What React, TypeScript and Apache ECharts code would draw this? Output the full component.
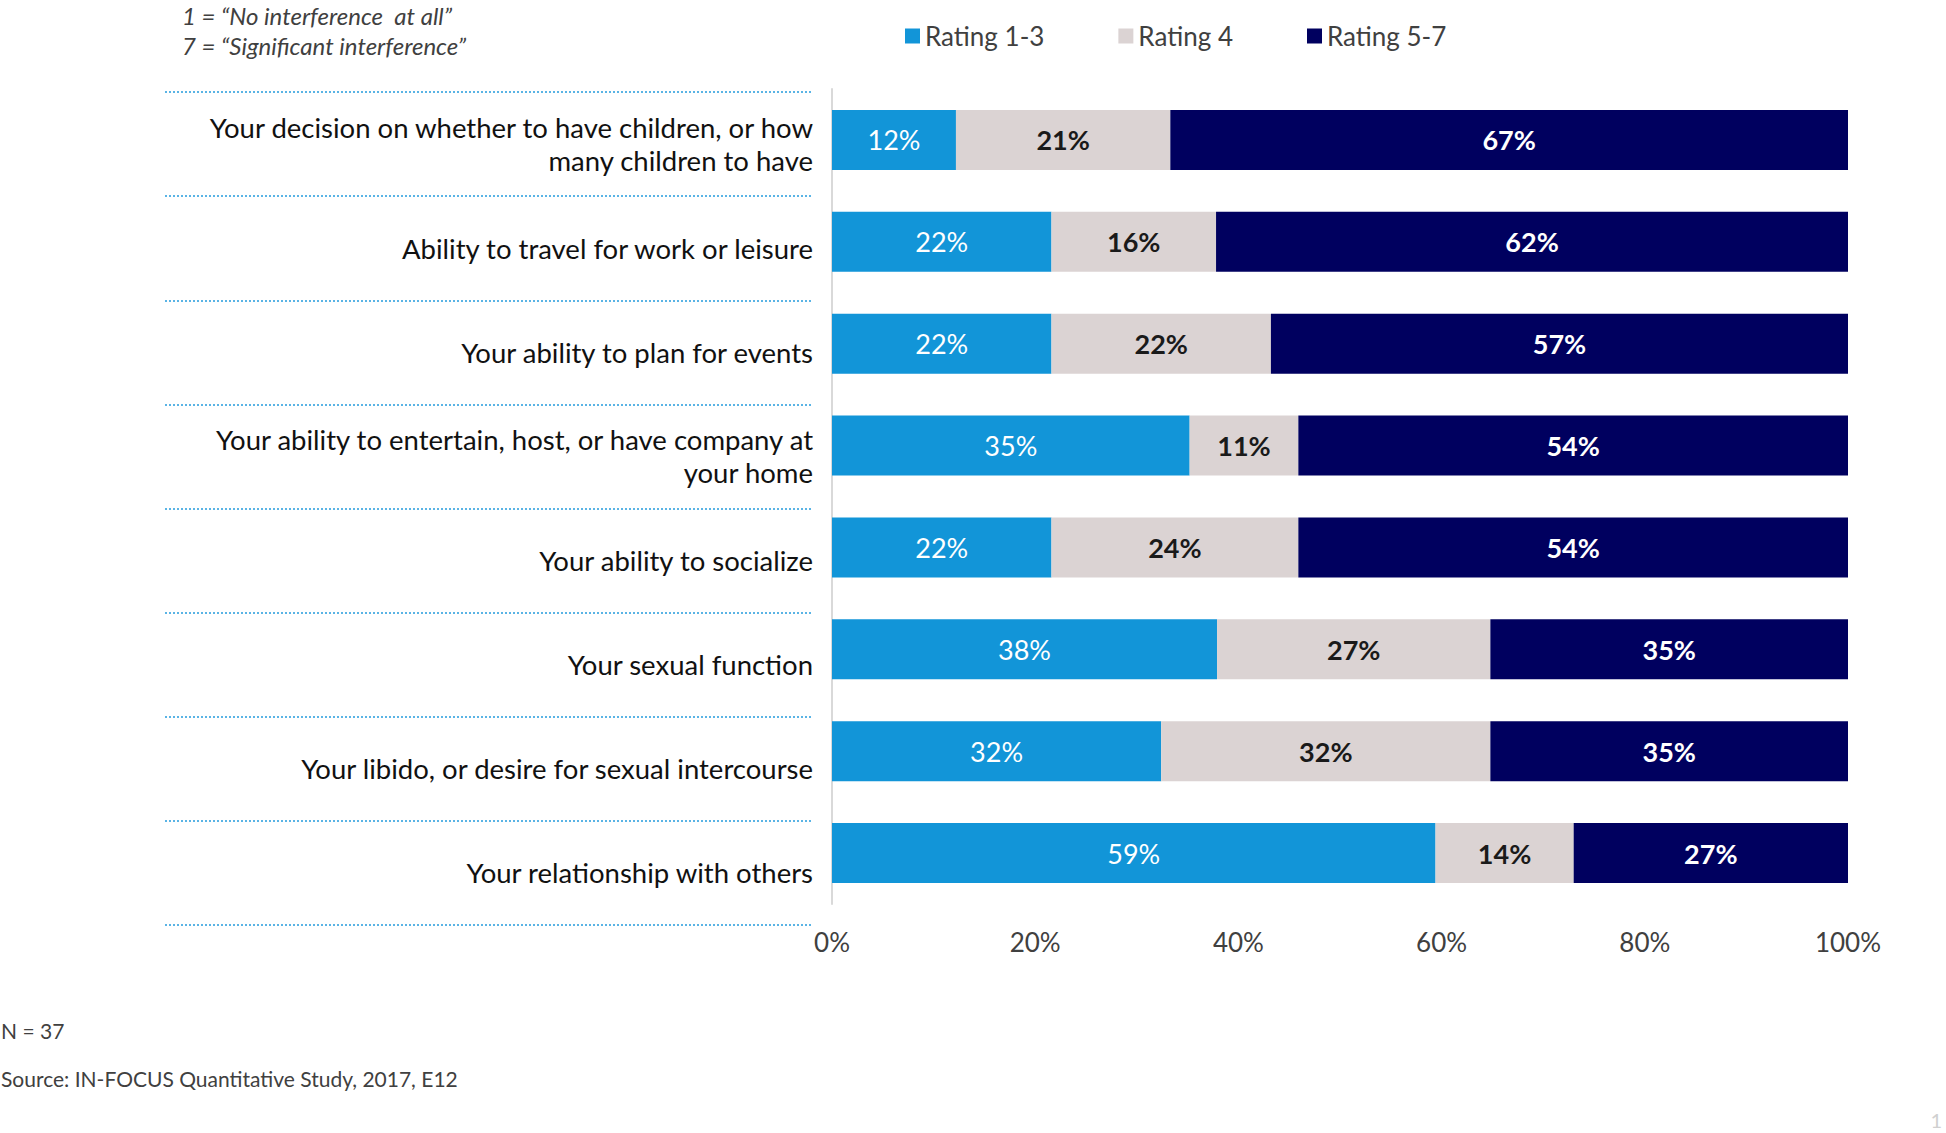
import React, { useEffect, useRef } from "react";
import * as echarts from "echarts";

const categories = [
  "Your decision on whether to have children, or how\nmany children to have",
  "Ability to travel for work or leisure",
  "Your ability to plan for events",
  "Your ability to entertain, host, or have company at\nyour home",
  "Your ability to socialize",
  "Your sexual function",
  "Your libido, or desire for sexual intercourse",
  "Your relationship with others",
];

const seriesNames = ["Rating 1-3", "Rating 4", "Rating 5-7"];
const rating13 = [12.2, 21.6, 21.6, 35.2, 21.6, 37.9, 32.4, 59.4];
const rating4 = [21.1, 16.2, 21.6, 10.7, 24.3, 26.9, 32.4, 13.6];
const rating57 = [66.7, 62.2, 56.8, 54.1, 54.1, 35.2, 35.2, 27.0];
const xTicks = [0, 20, 40, 60, 80, 100];

const noteLines = ["1 = \u201cNo interference  at all\u201d", "7 = \u201cSignificant interference\u201d"];
const sampleNote = "N = 37";
const sourceNote = "Source: IN-FOCUS Quantitative Study, 2017, E12";

const FONT = "Lato";

export default function App() {
  const ref = useRef<HTMLDivElement>(null);
  useEffect(() => {
    if (!ref.current) return;
    const chart = echarts.init(ref.current, undefined, { renderer: "svg" });
    const colors = ["#1295d8", "#dbd3d3", "#00005f"];
    const labelStyles = [
      { color: "#ffffff", fontWeight: "normal" },
      { color: "#1a1a1a", fontWeight: "bold" },
      { color: "#ffffff", fontWeight: "bold" },
    ];
    const datasets = [rating13, rating4, rating57];
    const option: any = {
      animation: false,
      textStyle: { fontFamily: FONT },
      color: colors,
      legend: {
        data: seriesNames,
        left: 905,
        top: 23,
        padding: 0,
        icon: "rect",
        itemWidth: 15,
        itemHeight: 15,
        itemGap: 74,
        textStyle: { fontFamily: FONT, fontSize: 26, color: "#404040" },
      },
      grid: [
        { left: 832, right: 98, top: 89, bottom: 229 },
        { left: 165, right: 1133, top: 92, bottom: 208 },
      ],
      xAxis: [
        {
          type: "value",
          gridIndex: 0,
          min: 0,
          max: 100,
          interval: 20,
          axisLine: { show: false },
          axisTick: { show: false },
          splitLine: { show: false },
          axisLabel: {
            formatter: (v: number) => (xTicks.includes(v) ? v + "%" : ""),
            fontFamily: FONT,
            fontSize: 26,
            color: "#404040",
            margin: 25,
          },
        },
        { type: "value", gridIndex: 1, min: 0, max: 1, show: false },
      ],
      yAxis: [
        {
          type: "category",
          gridIndex: 0,
          data: categories,
          inverse: true,
          axisLine: { show: true, lineStyle: { color: "#d9d9d9", width: 2 } },
          axisTick: { show: false },
          axisLabel: { show: false },
          splitLine: { show: false },
        },
        {
          type: "category",
          gridIndex: 1,
          data: categories,
          inverse: true,
          position: "right",
          axisLine: { show: false },
          axisTick: { show: false },
          splitLine: {
            show: true,
            lineStyle: { color: "#5ab4e5", width: 2, type: [2, 2] },
          },
          axisLabel: {
            inside: true,
            margin: 0,
            fontFamily: FONT,
            fontSize: 27.5,
            lineHeight: 33,
            color: "#111111",
            align: "right",
          },
        },
      ],
      series: datasets.map((d, i) => ({
        name: seriesNames[i],
        type: "bar",
        stack: "total",
        xAxisIndex: 0,
        yAxisIndex: 0,
        barCategoryGap: "41%",
        data: d,
        itemStyle: { color: colors[i] },
        label: {
          show: true,
          position: "inside",
          formatter: (p: any) => Math.round(p.value) + "%",
          fontFamily: FONT,
          fontSize: 27,
          color: labelStyles[i].color,
          fontWeight: labelStyles[i].fontWeight,
        },
      })),
      graphic: [
        {
          type: "text",
          left: 182,
          top: 3,
          style: {
            text: noteLines[0],
            fontFamily: FONT,
            fontStyle: "italic",
            fontSize: 24,
            lineHeight: 24,
            fill: "#404040",
          },
        },
        {
          type: "text",
          left: 182,
          top: 33,
          style: {
            text: noteLines[1],
            fontFamily: FONT,
            fontStyle: "italic",
            fontSize: 24,
            lineHeight: 24,
            fill: "#404040",
          },
        },
        {
          type: "text",
          left: 1,
          top: 1020,
          style: { text: sampleNote, fontFamily: FONT, fontSize: 21, fill: "#404040" },
        },
        {
          type: "text",
          left: 1,
          top: 1068,
          style: { text: sourceNote, fontFamily: FONT, fontSize: 21, fill: "#404040" },
        },
        {
          type: "text",
          right: 4,
          top: 1110,
          style: { text: "1", fontFamily: FONT, fontSize: 20, fill: "#d0d0d0" },
        },
      ],
    };
    chart.setOption(option);
    return () => chart.dispose();
  }, []);
  return (
    <div
      ref={ref}
      style={{ position: "fixed", left: 0, top: 0, width: 1946, height: 1133, background: "#ffffff" }}
    />
  );
}
